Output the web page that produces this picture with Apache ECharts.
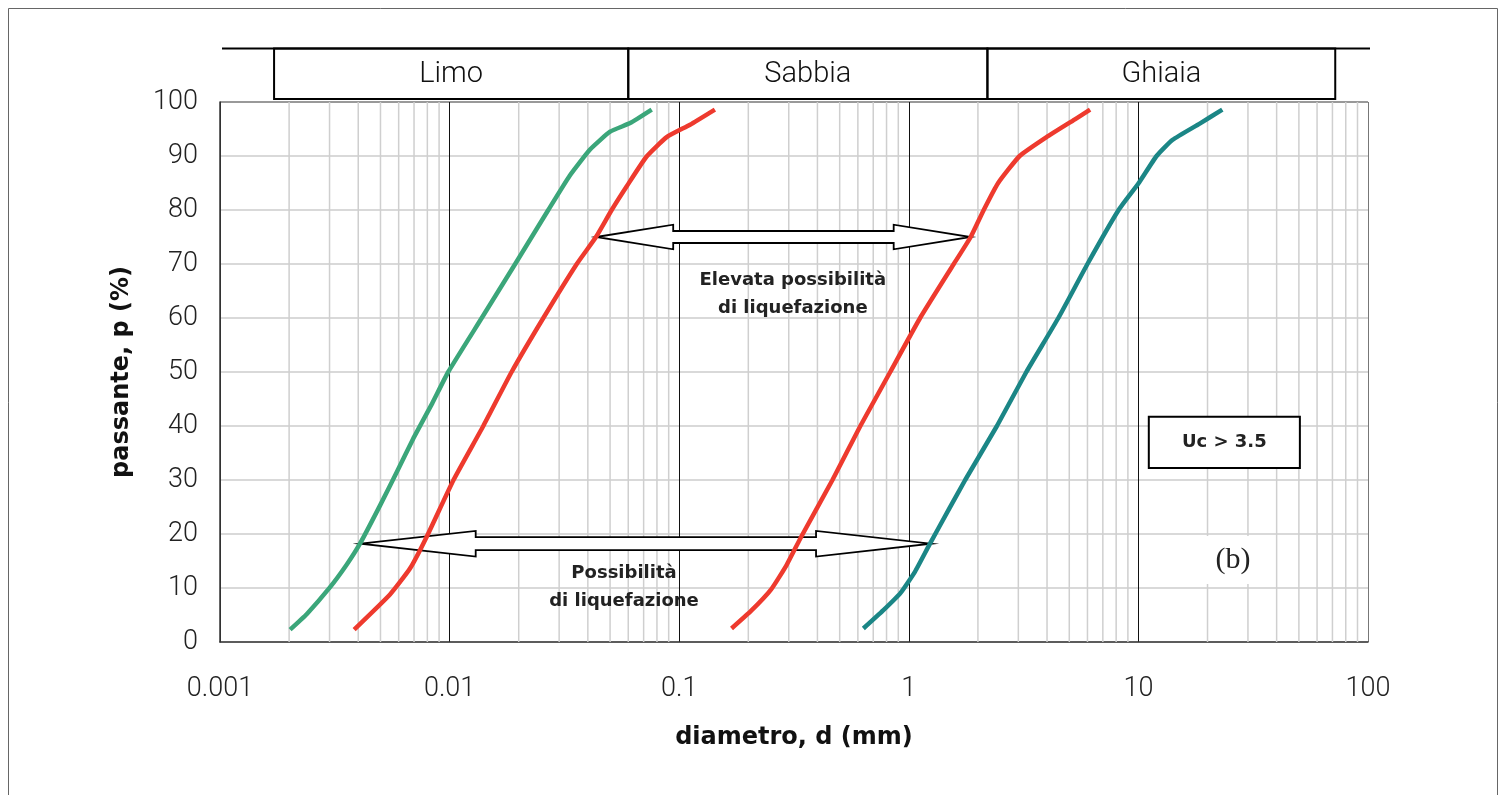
<!DOCTYPE html>
<html><head><meta charset="utf-8">
<script src="https://cdn.jsdelivr.net/npm/echarts@6/dist/echarts.min.js"></script>
<style>html,body{margin:0;padding:0;background:#fff}#c{width:1508px;height:795px}</style>
</head><body><div id="c"></div>
<script>
// ---- data ----
const xTickLabels = ['0.001', '0.01', '0.1', '1', '10', '100'];
const yTickLabels = ['0', '10', '20', '30', '40', '50', '60', '70', '80', '90', '100'];
const minorTicks = [0.002,0.003,0.004,0.005,0.006,0.007,0.008,0.009,
  0.02,0.03,0.04,0.05,0.06,0.07,0.08,0.09,
  0.2,0.3,0.4,0.5,0.6,0.7,0.8,0.9,
  2,3,4,5,6,7,8,9,
  20,30,40,50,60,70,80,90];
const greenLimo = [[0.00202,2.3],[0.00239,5.2],[0.00301,10.1],[0.00356,14.3],[0.00407,18.2],[0.00498,25.3],[0.00589,31.5],[0.00695,37.7],[0.0084,44.2],[0.00986,50.0],[0.0138,60.0],[0.0193,70.0],[0.0269,80.0],[0.0334,86.4],[0.0409,91.2],[0.050,94.5],[0.0611,96.1],[0.0759,98.6]];
const redFine = [[0.00384,2.3],[0.0055,8.8],[0.00672,13.6],[0.00795,19.5],[0.0104,30.0],[0.01402,40.0],[0.01862,50.0],[0.0256,60.0],[0.0358,70.0],[0.0434,75.0],[0.0508,80.0],[0.0591,84.4],[0.0721,89.9],[0.0882,93.5],[0.1115,95.8],[0.143,98.6]];
const redCoarse = [[0.169,2.5],[0.206,5.8],[0.251,9.7],[0.294,14.3],[0.340,19.5],[0.465,30.0],[0.615,40.0],[0.83,50.0],[1.12,60.0],[1.57,70.0],[1.86,75.0],[2.12,80.0],[2.45,85.0],[3.04,90.0],[3.98,93.5],[5.29,96.8],[6.16,98.6]];
const tealGravel = [[0.634,2.5],[0.771,5.8],[0.921,9.1],[1.063,13.0],[1.225,17.9],[1.50,24.7],[1.76,30.0],[2.42,40.0],[3.25,50.0],[4.48,60.0],[6.0,70.0],[8.2,80.0],[10.0,84.9],[12.0,90.0],[14.1,93.0],[18.5,96.0],[23.2,98.6]];
// arrows: [d from, d to, passante]
const arrows = [[0.0435, 1.86, 75.0], [0.0041, 1.25, 18.2]];
const bandNames = ['Limo', 'Sabbia', 'Ghiaia'];
const bandEdges = [0.00172, 0.06, 2.2, 72];
const noteElevata = {text: 'Elevata possibilità\ndi liquefazione', at: [0.3125, 64.3]};
const notePossib = {text: 'Possibilità\ndi liquefazione', at: [0.0575, 10.2]};
const noteUc = {text: 'Uc > 3.5', from: [11.1, 41.7], to: [50.5, 32.2]};
const noteB = {text: '(b)', at: [25.8, 15.2]};

// ---- styles ----
const FONT = 'Roboto';
const BOLD = 'DejaVu Sans';
const arrowHead = [[77, 12.3, 6], [115, 12.8, 6.5]]; // head length, head half-height, shaft half-height

const chart = echarts.init(document.getElementById('c'), null, {renderer: 'canvas'});
const lineSeries = (name, data, color) => ({
  name, type: 'line', data, showSymbol: false, smooth: 0.15, z: 6,
  lineStyle: {color, width: 4.5, cap: 'butt', join: 'round'}, animation: false
});
chart.setOption({
  animation: false,
  backgroundColor: '#fff',
  grid: {left: 220, right: 140, top: 102, bottom: 153, show: false},
  xAxis: {
    type: 'log', logBase: 10, min: 0.001, max: 100,
    name: 'diametro, d (mm)', nameLocation: 'middle', nameGap: 84,
    nameTextStyle: {fontFamily: BOLD, fontWeight: 'bold', fontSize: 24, color: '#111'},
    axisLine: {show: true, lineStyle: {color: '#333', width: 1.5}},
    axisTick: {show: false},
    axisLabel: {margin: 34, fontFamily: FONT, fontWeight: 300, fontSize: 27, color: '#222',
      formatter: v => xTickLabels[Math.round(Math.log10(v)) + 3]},
    splitLine: {show: true, lineStyle: {color: ['#333', '#111', '#111', '#111', '#111', '#777'], width: 1}}
  },
  yAxis: {
    type: 'value', min: 0, max: 100, interval: 10,
    name: 'passante, p (%)', nameLocation: 'middle', nameGap: 86, nameRotate: 90,
    nameTextStyle: {fontFamily: BOLD, fontWeight: 'bold', fontSize: 24, color: '#111'},
    axisLine: {show: true, lineStyle: {color: '#333', width: 1.5}},
    axisTick: {show: false},
    axisLabel: {margin: 22, fontFamily: FONT, fontWeight: 300, fontSize: 27, color: '#222',
      formatter: v => yTickLabels[Math.round(v / 10)]},
    splitLine: {show: true, lineStyle: {color: ['#ccc','#ccc','#ccc','#ccc','#ccc','#ccc','#ccc','#ccc','#ccc','#ccc','#777'], width: 1.5}}
  },
  series: [
    {
      type: 'custom', name: 'minorGrid', z: 1, silent: true,
      data: minorTicks.map(v => [v]),
      encode: {x: 0},
      renderItem: (params, api) => {
        const a = api.coord([api.value(0), 0]);
        const b = api.coord([api.value(0), 100]);
        return {type: 'line', shape: {x1: a[0], y1: a[1], x2: b[0], y2: b[1]},
          style: {stroke: '#cfcfcf', lineWidth: 1.5}};
      }
    },
    {
      type: 'custom', name: 'arrows', z: 4, silent: true,
      data: arrows,
      encode: {x: [0, 1], y: 2},
      renderItem: (params, api) => {
        const p1 = api.coord([api.value(0), api.value(2)]);
        const p2 = api.coord([api.value(1), api.value(2)]);
        const [L, H, h] = arrowHead[params.dataIndex];
        const y = p1[1], x1 = p1[0], x2 = p2[0];
        const pts = [[x1, y], [x1 + L, y - H], [x1 + L, y - h], [x2 - L, y - h], [x2 - L, y - H], [x2, y],
          [x2 - L, y + H], [x2 - L, y + h], [x1 + L, y + h], [x1 + L, y + H]];
        return {type: 'polygon', shape: {points: pts},
          style: {fill: '#fff', stroke: '#000', lineWidth: 1.8, lineJoin: 'miter'}};
      }
    },
    lineSeries('Limo', greenLimo, '#3BA67A'),
    lineSeries('Fine', redFine, '#EE3A2E'),
    lineSeries('Coarse', redCoarse, '#EE3A2E'),
    lineSeries('Gravel', tealGravel, '#1B8686')
  ]
});

// ---- annotations positioned through the axes ----
const px = p => chart.convertToPixel({gridIndex: 0}, p);
const g = [];
// outer frame
g.push({type: 'rect', shape: {x: 8.5, y: 8.5, width: 1489, height: 800}, style: {fill: null, stroke: '#666', lineWidth: 1}, z: 0});
// top band
const leftPx = px([0.001, 100])[0], rightPx = px([100, 100])[0];
const bandTop = 48.5, bandBot = 99;
g.push({type: 'line', shape: {x1: leftPx + 2, y1: bandTop, x2: rightPx + 2, y2: bandTop}, style: {stroke: '#000', lineWidth: 2.2}, z: 10});
for (let i = 0; i < bandNames.length; i++) {
  const xa = px([bandEdges[i], 100])[0], xb = px([bandEdges[i + 1], 100])[0];
  g.push({type: 'rect', shape: {x: xa, y: bandTop, width: xb - xa, height: bandBot - bandTop},
    style: {fill: null, stroke: '#000', lineWidth: 2}, z: 10});
  g.push({type: 'text', x: (xa + xb) / 2, y: (bandTop + bandBot) / 2 + 1,
    style: {text: bandNames[i], fontFamily: FONT, fontWeight: 300, fontSize: 29, fill: '#111', align: 'center', verticalAlign: 'middle'}, z: 10});
}
// notes
const textNote = (n, size, weight, family, lh, extra) => {
  const p = px(n.at);
  g.push({type: 'text', x: p[0], y: p[1], z: 12,
    style: Object.assign({text: n.text, fontFamily: family, fontWeight: weight, fontSize: size, fill: '#222',
      align: 'center', verticalAlign: 'middle', lineHeight: lh}, extra || {})});
};
textNote(noteElevata, 18, 'bold', BOLD, 28);
textNote(notePossib, 18, 'bold', BOLD, 28);
const u1 = px(noteUc.from), u2 = px(noteUc.to);
g.push({type: 'rect', z: 12, shape: {x: u1[0], y: u1[1], width: u2[0] - u1[0], height: u2[1] - u1[1]},
  style: {fill: '#fff', stroke: '#000', lineWidth: 2}});
g.push({type: 'text', z: 13, x: (u1[0] + u2[0]) / 2, y: (u1[1] + u2[1]) / 2,
  style: {text: noteUc.text, fontFamily: BOLD, fontWeight: 'bold', fontSize: 18, fill: '#222', align: 'center', verticalAlign: 'middle'}});
textNote(noteB, 30, 'normal', 'Liberation Serif', 36, {backgroundColor: '#fff', padding: [2, 16, 10, 16]});
chart.setOption({graphic: {elements: g}});
</script>
</body></html>
